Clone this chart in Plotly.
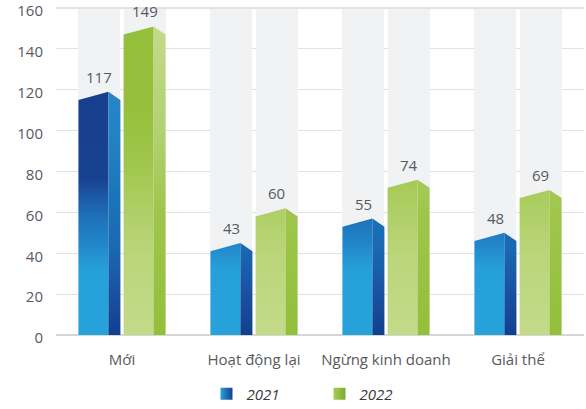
import plotly.graph_objects as go

# ---- data ----
categories = ["Mới", "Hoạt động lại", "Ngừng kinh doanh", "Giải thể"]
years = ["2021", "2022"]
values_2021 = [117, 43, 55, 48]
values_2022 = [149, 60, 74, 69]
y_ticks = [0, 20, 40, 60, 80, 100, 120, 140, 160]

Y_MAX = 160
FONT = "Open Sans"
TEXT_COLOR = "#58595b"

# ---- bar geometry (in category units) ----
BAR_W = 0.318          # front + side face
FRONT = 0.227          # width of the front face
GAP = 0.024            # white gap between the two bars of a group
BEVEL = 2.0            # half-height of the slanted top, in value units

# vertical colour gradients (position 0 = value 0, 1 = value Y_MAX)
styles = {
    "2021": {
        "front": [[0, "#27a2da"], [0.2, "#26a0d8"], [0.27, "#2288cc"],
                  [0.35, "#1e74bb"], [0.42, "#1c5aa8"], [0.48, "#18418f"],
                  [1, "#173d8c"]],
        "side": [[0, "#123f8f"], [0.12, "#1a50a0"], [0.27, "#1a69b3"],
                 [0.4, "#1a72b9"], [0.6, "#2382c4"], [1, "#2c8acb"]],
        "legend": ("#27a2da", "#143f90"),
    },
    "2022": {
        "front": [[0, "#c3db8a"], [0.25, "#bad57a"], [0.38, "#aecf66"],
                  [0.55, "#9ec548"], [0.7, "#96c03c"], [1, "#94bf3a"]],
        "side": [[0, "#93bf3a"], [0.38, "#9fc64b"], [0.62, "#b2d172"],
                 [0.93, "#c2da88"], [1, "#c3db8a"]],
        "legend": ("#a9cd58", "#7aac2e"),
    },
}

series = {"2021": values_2021, "2022": values_2022}
left_offsets = {"2021": -GAP / 2 - BAR_W, "2022": GAP / 2}

fig = go.Figure()

# light background columns behind every bar
for year in years:
    fig.add_trace(go.Bar(
        x=[i + left_offsets[year] + BAR_W / 2 for i in range(len(categories))],
        y=[Y_MAX] * len(categories),
        width=BAR_W,
        marker=dict(color="#f1f2f4", line=dict(width=0)),
        showlegend=False, hoverinfo="skip",
    ))

# bars drawn as a front face and a side face with a peaked top
for year in years:
    st = styles[year]
    for i, v in enumerate(series[year]):
        x0 = i + left_offsets[year]
        x1 = x0 + FRONT
        x2 = x0 + BAR_W
        faces = {
            "front": ([x0, x1, x1, x0, x0], [v - BEVEL, v + BEVEL, 0, 0, v - BEVEL]),
            "side": ([x1, x2, x2, x1, x1], [v + BEVEL, v - BEVEL, 0, 0, v + BEVEL]),
        }
        for face, (xs, ys) in faces.items():
            fig.add_trace(go.Scatter(
                x=xs, y=ys, mode="lines", fill="toself",
                line=dict(width=0, color="rgba(0,0,0,0)"),
                fillgradient=dict(type="vertical", colorscale=st[face],
                                  start=0, stop=Y_MAX),
                showlegend=False, hoverinfo="skip",
            ))
        fig.add_annotation(
            x=x0 + BAR_W / 2, y=v + BEVEL, text=str(v), showarrow=False,
            yanchor="bottom", yshift=3,
            font=dict(family=FONT, size=15, color=TEXT_COLOR),
        )

# legend entries
for year in years:
    c0, c1 = styles[year]["legend"]
    fig.add_trace(go.Scatter(
        x=[None], y=[None], mode="markers", name=year,
        marker=dict(symbol="square", size=13, color=c0,
                    gradient=dict(type="horizontal", color=c1)),
    ))

# heavier rule along the top of the value axis
fig.add_shape(type="line", xref="paper", yref="y", x0=0, x1=1,
              y0=Y_MAX, y1=Y_MAX, line=dict(color="#e2e2e2", width=2),
              layer="above")

fig.update_layout(
    width=586, height=409,
    margin=dict(l=56, r=2, t=7, b=74, autoexpand=False),
    paper_bgcolor="white", plot_bgcolor="white",
    barmode="overlay", bargap=0,
    showlegend=True,
    legend=dict(orientation="h", x=0.285, xanchor="left",
                yref="container", y=15 / 409, yanchor="middle",
                entrywidth=68,
                font=dict(family=FONT, size=15, color="#3a3a3a", style="italic"),
                itemsizing="constant"),
    font=dict(family=FONT, size=15, color=TEXT_COLOR),
)
fig.update_xaxes(
    range=[-0.5, len(categories) - 0.5],
    tickmode="array", tickvals=list(range(len(categories))), ticktext=categories,
    showgrid=False, zeroline=False, showline=False,
    ticks="", ticklabelstandoff=14,
    tickfont=dict(family=FONT, size=15, color=TEXT_COLOR),
)
fig.update_yaxes(
    range=[0, Y_MAX + 0.5], tickmode="array", tickvals=y_ticks,
    showgrid=True, gridcolor="#e2e2e2", gridwidth=1,
    zeroline=True, zerolinecolor="#d6d6d6", zerolinewidth=2,
    showline=False, ticks="", ticklabelstandoff=12, ticklabelshift=3,
    ticklabeloverflow="allow",
    tickfont=dict(family=FONT, size=15, color=TEXT_COLOR),
)

fig.write_html("out.html")
